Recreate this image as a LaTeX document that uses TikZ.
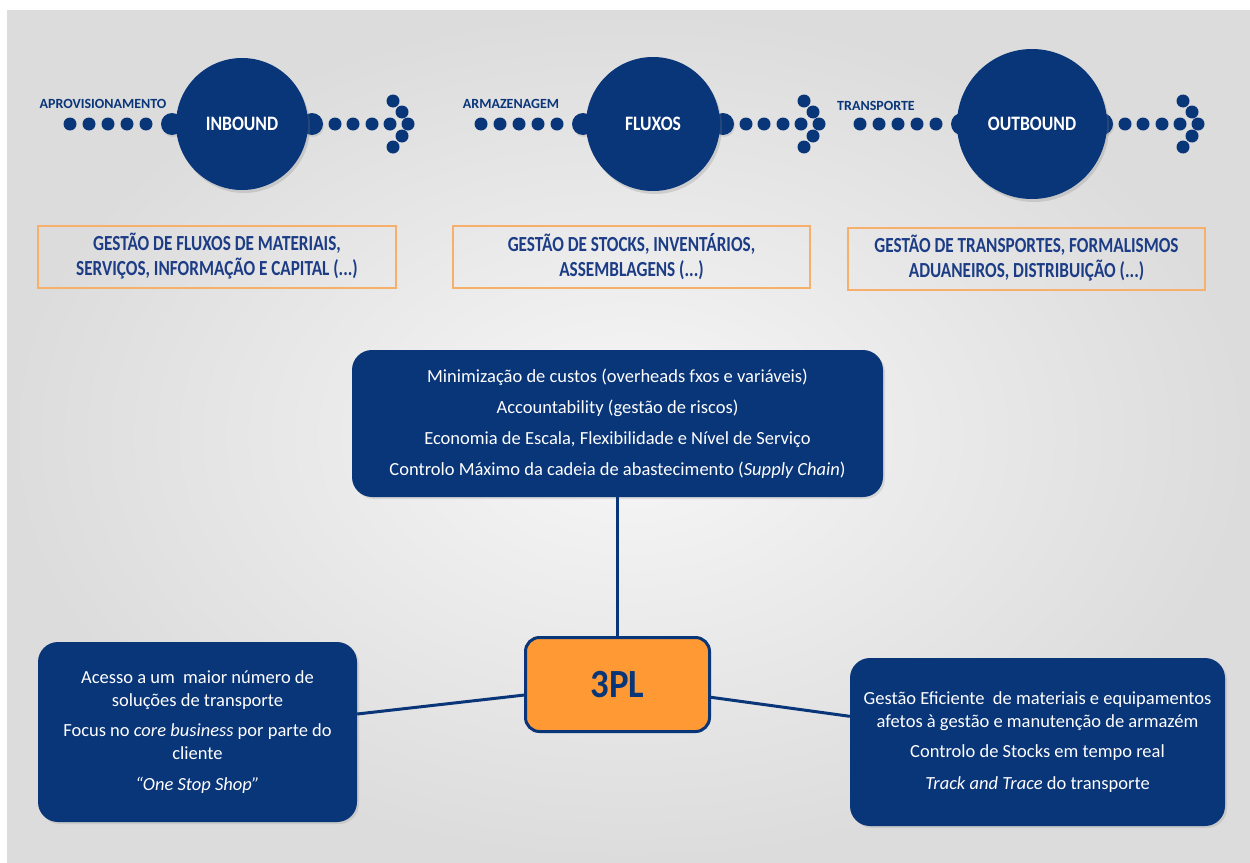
\documentclass[tikz,border=0pt]{standalone}
\usepackage{fontspec}
\setmainfont{Carlito}
\newfontfamily\headfont[FakeStretch=0.8]{Carlito}
\newfontfamily\circfont[FakeStretch=0.86]{Carlito}
\newfontfamily\plfont[FakeStretch=0.92]{Carlito}
\usetikzlibrary{shadows}
\definecolor{navy}{HTML}{093579}
\definecolor{orng}{HTML}{FF9933}
\definecolor{orngline}{HTML}{F6B06C}
\definecolor{boxtxt}{HTML}{1C3C86}
\definecolor{bgout}{HTML}{DCDCDC}
\definecolor{bgin}{HTML}{F7F7F7}
\begin{document}
\begin{tikzpicture}[x=1pt,y=-1pt,
  bigcirc/.style={circle, fill=navy, inner sep=0, text=white,
    font=\circfont\bfseries\fontsize{20.5}{20.5}\selectfont,
    drop shadow={opacity=0.25, shadow xshift=2pt, shadow yshift=-3pt}},
  hub/.style={circle, fill=navy, inner sep=0, minimum size=22,
    drop shadow={opacity=0.2, shadow xshift=1pt, shadow yshift=-2pt}},
  dot/.style={circle, fill=navy, inner sep=0, minimum size=13},
  steplabel/.style={text=navy, font=\bfseries\fontsize{14}{14}\selectfont, inner sep=0},
  infobox/.style={draw=orngline, line width=2pt, text=boxtxt, align=center, inner sep=0,
    font=\headfont\bfseries\fontsize{21.5}{25}\selectfont},
  bluebox/.style={rounded corners=20, fill=navy, text=white, align=center, inner sep=0,
    font=\fontsize{18.5}{23}\selectfont,
    drop shadow={opacity=0.2, shadow xshift=2pt, shadow yshift=-2pt}},
  plbox/.style={rounded corners=14, fill=orng, draw=navy, line width=3pt, text=navy,
    font=\plfont\bfseries\fontsize{40}{40}\selectfont, inner sep=0},
  link/.style={draw=navy, line width=3pt}
]
\useasboundingbox (0,0) rectangle (1250,862);
\shade[inner color=bgin, outer color=bgout] (7,10) rectangle (1250,862);

% hubs
\foreach \cx/\nm in {242/inb, 653/flx, 1032/outb} {
  \node[hub] (\nm-hl) at (\cx-70,124) {};
  \node[hub] (\nm-hr) at (\cx+70,124) {};
}
% big circles
\node[bigcirc, minimum size=132] (inb) at (242,124) {INBOUND};
\node[bigcirc, minimum size=134] (flx) at (653,124) {FLUXOS};
\node[bigcirc, minimum size=150] (outb) at (1032,124) {OUTBOUND};

% dots and chevrons
\foreach \cx/\nm in {242/inb, 653/flx, 1032/outb} {
  \foreach \dx [count=\i] in {-172,-153,-134,-115,-96}
    \node[dot] (\nm-l\i) at (\cx+\dx,124) {};
  \foreach \dx [count=\i] in {93,111,130,148}
    \node[dot] (\nm-r\i) at (\cx+\dx,124) {};
  \foreach \dx/\dy [count=\i] in {151/101,160/112,166/124,160/136,151/147}
    \node[dot] (\nm-c\i) at (\cx+\dx,\dy) {};
}

% step labels
\node[steplabel] (lab1) at (103,104) {APROVISIONAMENTO};
\node[steplabel] (lab2) at (511,104) {ARMAZENAGEM};
\node[steplabel] (lab3) at (876,106) {TRANSPORTE};

% orange-outlined boxes
\node[infobox, minimum width=358, minimum height=62] (b1) at (217,256.5)
  {GESTÃO DE FLUXOS DE MATERIAIS,\\SERVIÇOS, INFORMAÇÃO E CAPITAL (...)};
\node[infobox, minimum width=357, minimum height=62] (b2) at (631.5,256.5)
  {GESTÃO DE STOCKS, INVENTÁRIOS,\\ASSEMBLAGENS (...)};
\node[infobox, minimum width=357, minimum height=62] (b3) at (1026.5,258.5)
  {GESTÃO DE TRANSPORTES, FORMALISMOS\\ADUANEIROS, DISTRIBUIÇÃO (...)};

% blue boxes
\node[bluebox, minimum width=531, minimum height=147] (top) at (617.5,423.5)
  {Minimização de custos (overheads fxos e variáveis)\\[8pt]
   Accountability (gestão de riscos)\\[8pt]
   Economia de Escala, Flexibilidade e Nível de Serviço\\[8pt]
   Controlo Máximo da cadeia de abastecimento (\textit{Supply Chain})};
\node[bluebox, minimum width=319, minimum height=180] (lbox) at (197.5,732)
  {Acesso a um\ \ maior número de\\soluções de transporte\\[7pt]
   Focus no \textit{core business} por parte do\\cliente\\[8pt]
   \textit{“One Stop Shop”}};
\node[bluebox, minimum width=375, minimum height=168] (rbox) at (1037.5,742)
  {Gestão Eficiente\ \ de materiais e equipamentos\\afetos à gestão e manutenção de armazém\\[7pt]
   Controlo de Stocks em tempo real\\[9pt]
   \textit{Track and Trace} do transporte};

% 3PL
\node[plbox, minimum width=184, minimum height=94] (pl) at (617.5,684.5) {3PL};

% connectors
\draw[link] (top) -- (pl);
\draw[link] (lbox) -- (pl);
\draw[link] (pl) -- (rbox);
\end{tikzpicture}
\end{document}
